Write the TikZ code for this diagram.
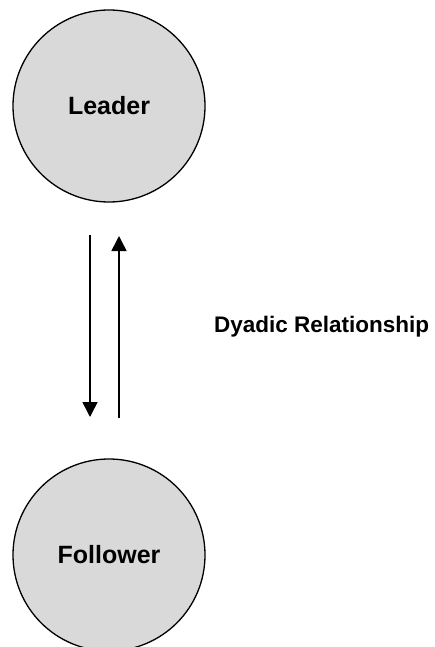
\documentclass[tikz,border=0pt]{standalone}
\usepackage{fontspec}
\setmainfont{Liberation Sans}
\usetikzlibrary{arrows.meta}
\definecolor{circfill}{HTML}{D9D9D9}
\tikzset{
  party/.style={circle, draw=black, line width=1.3pt, fill=circfill, minimum size=192pt, inner sep=0pt, font=\fontsize{25}{28}\selectfont\bfseries},
  rel/.style={line width=1.6pt, -{Triangle[length=15pt,width=15pt]}},
  lbl/.style={font=\fontsize{22.5}{26}\selectfont\bfseries, inner sep=0pt, anchor=base west}
}
\begin{document}
\begin{tikzpicture}[x=1pt,y=-1pt]
\useasboundingbox (0,0) rectangle (434,647);
\node[party] (leader) at (109,106) {Leader};
\node[party] (follower) at (109,555) {Follower};
\coordinate (d1) at (90,235);
\coordinate (d2) at (90,417);
\coordinate (u1) at (119,418);
\coordinate (u2) at (119,236);
\draw[rel] (d1) -- (d2);
\draw[rel] (u1) -- (u2);
\node[lbl] (dyad) at (214,332) {Dyadic Relationship};
\end{tikzpicture}
\end{document}
